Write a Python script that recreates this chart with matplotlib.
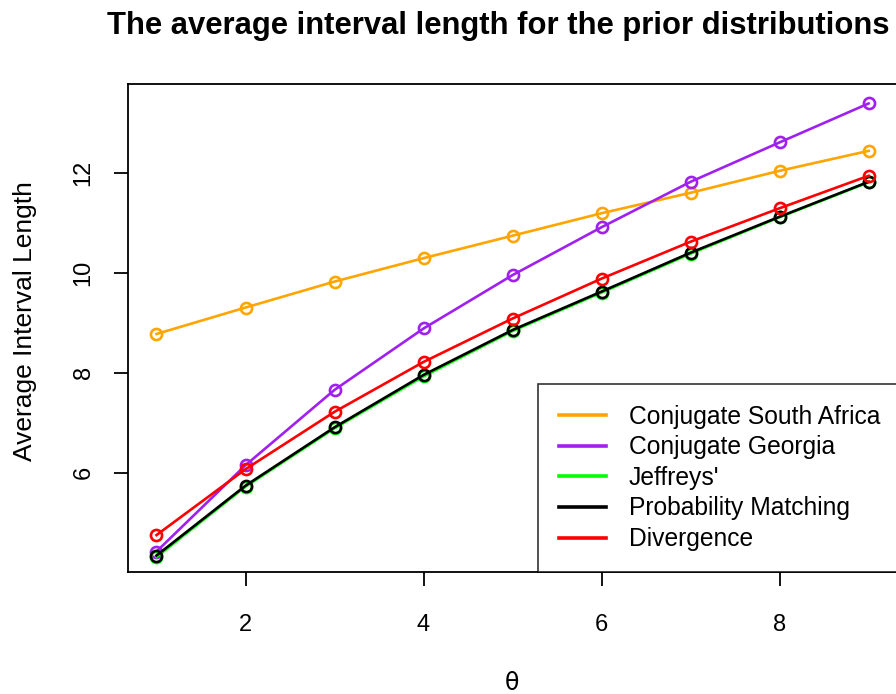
import matplotlib
matplotlib.use("Agg")
import matplotlib.pyplot as plt

theta = [1, 2, 3, 4, 5, 6, 7, 8, 9]
south_africa = [8.78, 9.31, 9.83, 10.30, 10.75, 11.20, 11.61, 12.05, 12.45]
georgia = [4.42, 6.15, 7.66, 8.89, 9.96, 10.92, 11.83, 12.62, 13.40]
jeffreys = [4.31, 5.72, 6.89, 7.93, 8.84, 9.61, 10.39, 11.12, 11.82]
prob_matching = [4.34, 5.74, 6.91, 7.96, 8.86, 9.63, 10.41, 11.13, 11.83]
divergence = [4.75, 6.07, 7.22, 8.22, 9.09, 9.89, 10.63, 11.30, 11.95]

labels = ["Conjugate South Africa", "Conjugate Georgia", "Jeffreys'",
          "Probability Matching", "Divergence"]
colors = ["#FFA500", "#A020F0", "#00FF00", "#000000", "#FF0000"]
series = [south_africa, georgia, jeffreys, prob_matching, divergence]

plt.rcParams['font.family'] = ['Liberation Sans', 'DejaVu Sans']

W, H = 896, 694
fig = plt.figure(figsize=(W / 100, H / 100), dpi=100)
ax = fig.add_axes([128 / W, 1 - 572 / H, (898 - 128) / W, (572 - 84) / H])

handles = []
for vals, col, lab in zip(series, colors, labels):
    ax.plot(theta, vals, color=col, lw=1.9, marker='o', ms=8,
            mfc='none', mec=col, mew=1.9)
    h, = ax.plot([], [], color=col, lw=2.6, label=lab)
    handles.append(h)

ax.set_xlim(0.68, 9.33)
ax.set_ylim(4.01, 13.79)
ax.set_xticks([2, 4, 6, 8])
ax.set_yticks([6, 8, 10, 12])
ax.tick_params(axis='both', direction='out', length=10, width=1.3,
               labelsize=17)
ax.tick_params(axis='x', pad=20)
ax.tick_params(axis='y', pad=14)
for lbl in ax.get_yticklabels():
    lbl.set_rotation(90)
    lbl.set_va('center')
for sp in ax.spines.values():
    sp.set_linewidth(1.3)

fig.text(512 / W, 1 - 683 / H, "θ", ha='center', va='center', fontsize=17,
         family=['DejaVu Sans'])
fig.text(25 / W, 1 - 321 / H, "Average Interval Length", ha='center',
         va='center', rotation=90, fontsize=19)
fig.text(498 / W, 1 - 26 / H,
         "The average interval length for the prior distributions",
         ha='center', va='center', fontsize=22.3, fontweight='bold')

leg = fig.legend(handles=handles, loc='lower left',
                 bbox_to_anchor=(538 / W, 1 - 572 / H),
                 bbox_transform=fig.transFigure, fontsize=17.7,
                 frameon=True, fancybox=False, borderpad=0.85,
                 handlelength=1.9, handletextpad=0.95, labelspacing=0.27,
                 borderaxespad=0)
leg.get_frame().set_edgecolor('black')
leg.get_frame().set_linewidth(1.2)

fig.savefig("out.png", dpi=100)
